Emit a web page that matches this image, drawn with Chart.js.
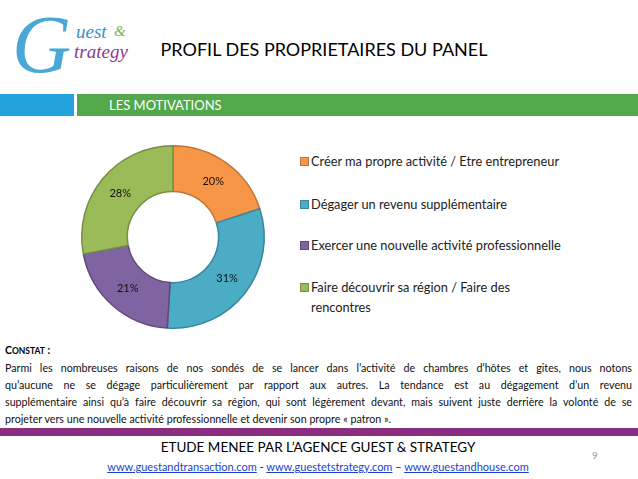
<!DOCTYPE html>
<html>
<head>
<meta charset="utf-8">
<script src="https://cdn.jsdelivr.net/npm/chart.js@4.4.0/dist/chart.umd.min.js"></script>
<style>
  body { margin: 0; width: 638px; height: 479px; background: #fff; position: relative; overflow: hidden; font-family: Lato, "Open Sans", sans-serif; color: #000; }
  .abs { position: absolute; }
  .logo { font-family: "Liberation Serif", serif; font-style: italic; line-height: 1; }
  #logoG { left: 12px; top: 4px; font-size: 82px; color: #4aa8d8; }
  #logoA { left: 76px; top: 22px; font-size: 19px; color: #3a8fcf; }
  #logoAmp { left: 114px; top: 24px; font-size: 15px; color: #7ab648; }
  #logoB { left: 74px; top: 42px; font-size: 19px; color: #8a3a8e; }
  #title { left: 0; width: 648px; top: 38px; text-align: center; font-size: 18px; }
  #barBlue { left: 0; top: 94px; width: 74px; height: 22px; background: #22a3dc; }
  #barGreen { left: 77px; top: 94px; width: 561px; height: 22px; background: #52a84a; }
  #barText { left: 109px; top: 97px; font-size: 13px; color: #fff; }
  #chartBox { left: 73px; top: 137px; width: 200px; height: 200px; }
  #legend { left: 300px; top: 150px; width: 320px; font-size: 12.8px; color: #222; }
  .item { position: absolute; left: 0; width: 290px; line-height: 20px; }
  .sw { position: absolute; left: 0; top: 6px; width: 7px; height: 7px; }
  .txt { margin-left: 11px; width: 262px; }
  #constat { left: 5px; top: 344px; font-size: 10.5px; font-weight: bold; }
  #para { left: 5px; top: 359px; width: 627px; font-size: 10.7px; line-height: 17px; color: #111; }
  .ln { display: block; text-align: justify; text-align-last: justify; white-space: nowrap; }
  .ln.last { text-align-last: left; }
  #barPurple { left: 0; top: 428px; width: 638px; height: 8px; background: #8b2e80; }
  #foot { left: 0; width: 636px; top: 439px; text-align: center; font-size: 13.5px; }
  #links { left: 0; width: 636px; top: 460px; text-align: center; font-size: 11px; color: #222; }
  #links a { color: #1a3fcf; text-decoration: underline; }
  #page { left: 592px; top: 449px; font-size: 10px; color: #999; }
</style>
</head>
<body>
<div id="logoG" class="abs logo">G</div>
<div id="logoA" class="abs logo">uest</div>
<div id="logoAmp" class="abs logo">&amp;</div>
<div id="logoB" class="abs logo">trategy</div>
<div id="title" class="abs">PROFIL DES PROPRIETAIRES DU PANEL</div>
<div id="barBlue" class="abs"></div>
<div id="barGreen" class="abs"></div>
<div id="barText" class="abs">LES MOTIVATIONS</div>
<div id="chartBox" class="abs"><canvas id="chart"></canvas></div>
<div id="legend" class="abs"></div>
<div id="constat" class="abs">C<span style="font-size:8.5px">ONSTAT</span> :</div>
<div id="para" class="abs">
  <span class="ln">Parmi les nombreuses raisons de nos sondés de se lancer dans l’activité de chambres d’hôtes et gites, nous notons</span>
  <span class="ln">qu’aucune ne se dégage particulièrement par rapport aux autres. La tendance est au dégagement d’un revenu</span>
  <span class="ln">supplémentaire ainsi qu’à faire découvrir sa région, qui sont légèrement devant, mais suivent juste derrière la volonté de se</span>
  <span class="ln last">projeter vers une nouvelle activité professionnelle et devenir son propre « patron ».</span>
</div>
<div id="barPurple" class="abs"></div>
<div id="foot" class="abs">ETUDE MENEE PAR L’AGENCE GUEST &amp; STRATEGY</div>
<div id="links" class="abs"><a>www.guestandtransaction.com</a> - <a>www.guestetstrategy.com</a> – <a>www.guestandhouse.com</a></div>
<div id="page" class="abs">9</div>
<script>
// Motivations data
const categories = [
  'Créer ma propre activité / Etre entrepreneur',
  'Dégager un revenu supplémentaire',
  'Exercer une nouvelle activité professionnelle',
  'Faire découvrir sa région / Faire des rencontres'
];
const values = [20, 31, 21, 28];
const colors = ['#f79646', '#4bacc6', '#8064a2', '#9bbb59'];
const borders = ['#c0763a', '#3a8599', '#5f4a7a', '#768f44'];

// draw percentage inside each slice
const pctLabels = {
  id: 'pctLabels',
  afterDatasetsDraw(chart) {
    const ctx = chart.ctx;
    const meta = chart.getDatasetMeta(0);
    ctx.save();
    ctx.font = '11px Lato';
    ctx.fillStyle = '#111';
    ctx.textAlign = 'center';
    ctx.textBaseline = 'middle';
    meta.data.forEach((arc, i) => {
      const p = arc.tooltipPosition();
      ctx.fillText(values[i] + '%', p.x, p.y);
    });
    ctx.restore();
  }
};

const chart = new Chart(document.getElementById('chart'), {
  type: 'doughnut',
  data: {
    labels: categories,
    datasets: [{
      data: values,
      backgroundColor: colors,
      borderColor: borders,
      borderWidth: 1.5
    }]
  },
  options: {
    responsive: true,
    maintainAspectRatio: false,
    animation: false,
    cutout: '50%',
    layout: { padding: 8 },
    plugins: {
      legend: { display: false },
      tooltip: { enabled: false }
    }
  },
  plugins: [pctLabels]
});

// Legend built from the chart
const legendTops = [1, 44, 85, 127];
const legend = document.getElementById('legend');
chart.data.labels.forEach((lab, i) => {
  const div = document.createElement('div');
  div.className = 'item';
  div.style.top = legendTops[i] + 'px';
  div.innerHTML = `<span class="sw" style="background:${colors[i]};border:1px solid ${borders[i]}"></span><div class="txt">${lab}</div>`;
  legend.appendChild(div);
});
</script>
</body>
</html>
